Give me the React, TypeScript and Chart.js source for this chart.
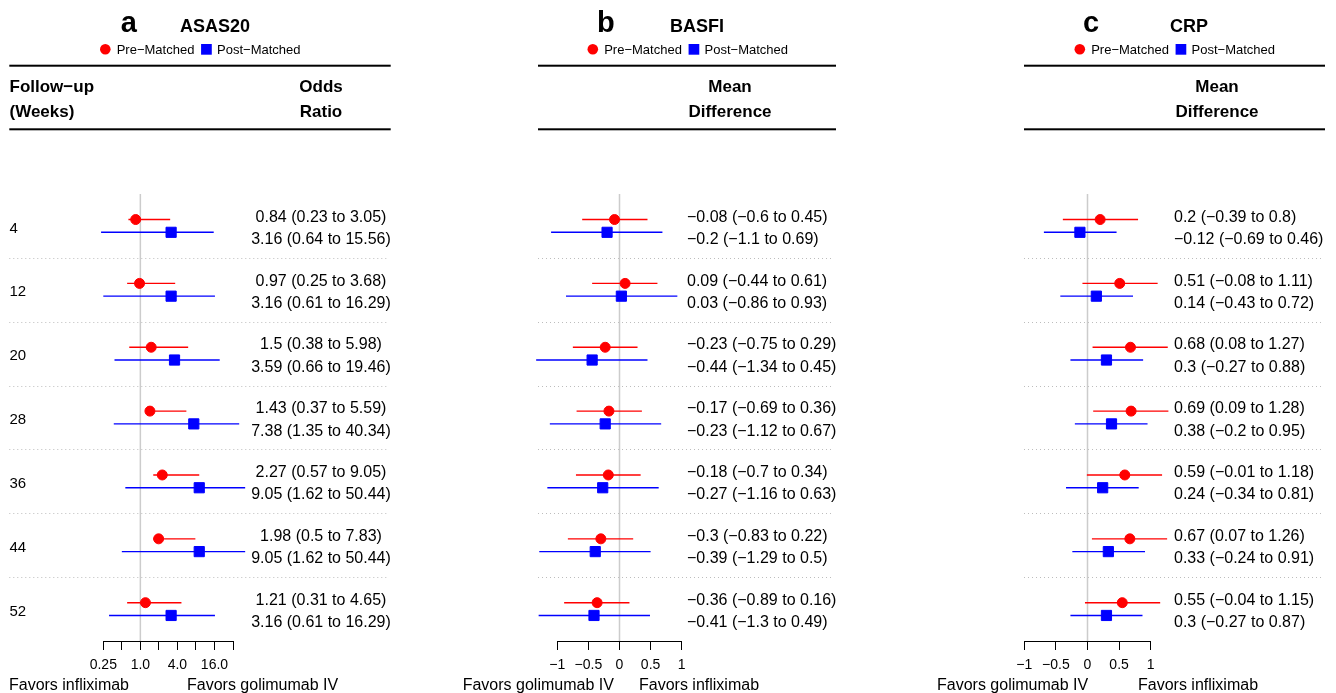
import React, { useEffect, useRef } from 'react';
import { Chart, registerables } from 'chart.js';

Chart.register(...registerables);

const FONT = '"Liberation Sans", Arial, Helvetica, sans-serif';
const RED = '#ff0000';
const BLUE = '#0000ff';

// ---- categories ----
const weeks = [4, 12, 20, 28, 36, 44, 52];

// ---- ASAS20 odds ratios (text values) ----
const asasPreEst = [0.84, 0.97, 1.5, 1.43, 2.27, 1.98, 1.21];
const asasPreLo = [0.23, 0.25, 0.38, 0.37, 0.57, 0.5, 0.31];
const asasPreHi = [3.05, 3.68, 5.98, 5.59, 9.05, 7.83, 4.65];
const asasPostEst = [3.16, 3.16, 3.59, 7.38, 9.05, 9.05, 3.16];
const asasPostLo = [0.64, 0.61, 0.66, 1.35, 1.62, 1.62, 0.61];
const asasPostHi = [15.56, 16.29, 19.46, 40.34, 50.44, 50.44, 16.29];
// interval ends as actually drawn in the figure (lower ends appear exchanged)
const asasPreBarLo = [0.64, 0.61, 0.66, 1.35, 1.62, 1.62, 0.61];
const asasPostBarLo = [0.23, 0.25, 0.38, 0.37, 0.57, 0.5, 0.31];

// ---- BASFI mean differences ----
const basfiPreEst = [-0.08, 0.09, -0.23, -0.17, -0.18, -0.3, -0.36];
const basfiPreLo = [-0.6, -0.44, -0.75, -0.69, -0.7, -0.83, -0.89];
const basfiPreHi = [0.45, 0.61, 0.29, 0.36, 0.34, 0.22, 0.16];
const basfiPostEst = [-0.2, 0.03, -0.44, -0.23, -0.27, -0.39, -0.41];
const basfiPostLo = [-1.1, -0.86, -1.34, -1.12, -1.16, -1.29, -1.3];
const basfiPostHi = [0.69, 0.93, 0.45, 0.67, 0.63, 0.5, 0.49];

// ---- CRP mean differences ----
const crpPreEst = [0.2, 0.51, 0.68, 0.69, 0.59, 0.67, 0.55];
const crpPreLo = [-0.39, -0.08, 0.08, 0.09, -0.01, 0.07, -0.04];
const crpPreHi = [0.8, 1.11, 1.27, 1.28, 1.18, 1.26, 1.15];
const crpPostEst = [-0.12, 0.14, 0.3, 0.38, 0.24, 0.33, 0.3];
const crpPostLo = [-0.69, -0.43, -0.27, -0.2, -0.34, -0.24, -0.27];
const crpPostHi = [0.46, 0.72, 0.88, 0.95, 0.81, 0.91, 0.87];

// ---- tick labels ----
const orTicks = [0.25, 0.5, 1, 2, 4, 8, 16, 32];
const orTickLabels = ['0.25', '', '1.0', '', '4.0', '', '16.0', ''];
const mdTicks = [-1, -0.5, 0, 0.5, 1];
const mdTickLabels = ['−1', '−0.5', '0', '0.5', '1'];

const legendLabels = ['Pre−Matched', 'Post−Matched'];

const PAGE_W = 1336;
const PAGE_H = 693;
const PLOT_TOP = 194;
const PLOT_BOTTOM = 641;
const ROW_OFF = 0.1;

const fmt = (v: number) => String(v).replace('-', '−');
const ciText = (e: number, l: number, h: number) => `${fmt(e)} (${fmt(l)} to ${fmt(h)})`;

type Panel = {
  key: string;
  left: number;
  width: number;
  axisL: number;
  axisR: number;
  log: boolean;
  ticks: number[];
  tickLabels: string[];
  ref: number;
  letter: string;
  letterX: number;
  title: string;
  titleX: number;
  legendX: number;
  lineL: number;
  lineR: number;
  headLeft?: string[];
  headRight: string[];
  headRightX: number;
  valueX: number;
  valueAlign: CanvasTextAlign;
  favorLeft: string;
  favorLeftX: number;
  favorLeftAlign: CanvasTextAlign;
  favorRight: string;
  favorRightX: number;
  preEst: number[];
  preLo: number[];
  preHi: number[];
  postEst: number[];
  postLo: number[];
  postHi: number[];
  preBarLo: number[];
  preBarHi: number[];
  postBarLo: number[];
  postBarHi: number[];
  rowLabels: boolean;
};

const panels: Panel[] = [
  {
    key: 'a', left: 0, width: 445, axisL: 103.3, axisR: 233, log: true,
    ticks: orTicks, tickLabels: orTickLabels, ref: 1,
    letter: 'a', letterX: 120.7, title: 'ASAS20', titleX: 180, legendX: 100,
    lineL: 9.3, lineR: 390.7,
    headLeft: ['Follow−up', '(Weeks)'], headRight: ['Odds', 'Ratio'], headRightX: 321,
    valueX: 321, valueAlign: 'center',
    favorLeft: 'Favors infliximab', favorLeftX: 129, favorLeftAlign: 'right',
    favorRight: 'Favors golimumab IV', favorRightX: 187,
    preEst: asasPreEst, preLo: asasPreLo, preHi: asasPreHi,
    postEst: asasPostEst, postLo: asasPostLo, postHi: asasPostHi,
    preBarLo: asasPreBarLo, preBarHi: asasPreHi, postBarLo: asasPostBarLo, postBarHi: asasPostHi,
    rowLabels: true,
  },
  {
    key: 'b', left: 445, width: 480, axisL: 557.3, axisR: 681.7, log: false,
    ticks: mdTicks, tickLabels: mdTickLabels, ref: 0,
    letter: 'b', letterX: 597, title: 'BASFI', titleX: 670, legendX: 587.5,
    lineL: 538, lineR: 836,
    headRight: ['Mean', 'Difference'], headRightX: 730,
    valueX: 687, valueAlign: 'left',
    favorLeft: 'Favors golimumab IV', favorLeftX: 462.7, favorLeftAlign: 'left',
    favorRight: 'Favors infliximab', favorRightX: 639,
    preEst: basfiPreEst, preLo: basfiPreLo, preHi: basfiPreHi,
    postEst: basfiPostEst, postLo: basfiPostLo, postHi: basfiPostHi,
    preBarLo: basfiPreLo, preBarHi: basfiPreHi, postBarLo: basfiPostLo, postBarHi: basfiPostHi,
    rowLabels: false,
  },
  {
    key: 'c', left: 925, width: 411, axisL: 1024.3, axisR: 1150.7, log: false,
    ticks: mdTicks, tickLabels: mdTickLabels, ref: 0,
    letter: 'c', letterX: 1083, title: 'CRP', titleX: 1170, legendX: 1074.5,
    lineL: 1024, lineR: 1325,
    headRight: ['Mean', 'Difference'], headRightX: 1217,
    valueX: 1174, valueAlign: 'left',
    favorLeft: 'Favors golimumab IV', favorLeftX: 937, favorLeftAlign: 'left',
    favorRight: 'Favors infliximab', favorRightX: 1138,
    preEst: crpPreEst, preLo: crpPreLo, preHi: crpPreHi,
    postEst: crpPostEst, postLo: crpPostLo, postHi: crpPostHi,
    preBarLo: crpPreLo, preBarHi: crpPreHi, postBarLo: crpPostLo, postBarHi: crpPostHi,
    rowLabels: false,
  },
];

function decorPlugin(p: Panel) {
  const X = (px: number) => px - p.left;
  return {
    id: 'decor_' + p.key,
    beforeDatasetsDraw(chart: any) {
      const { ctx, chartArea } = chart;
      const xs = chart.scales.x;
      const ys = chart.scales.y;
      ctx.save();
      // dotted separators
      ctx.strokeStyle = '#bdbdbd';
      ctx.lineWidth = 1;
      ctx.setLineDash([1, 3]);
      for (let i = 0; i < weeks.length - 1; i++) {
        const y = Math.round(ys.getPixelForValue(i + 0.5)) + 0.5;
        ctx.beginPath();
        ctx.moveTo(X(p.lineL), y);
        ctx.lineTo(X(p.lineR) - 2, y);
        ctx.stroke();
      }
      ctx.setLineDash([]);
      // reference line
      const rx = xs.getPixelForValue(p.ref);
      ctx.strokeStyle = '#cccccc';
      ctx.lineWidth = 1.5;
      ctx.beginPath();
      ctx.moveTo(rx, chartArea.top);
      ctx.lineTo(rx, chartArea.bottom);
      ctx.stroke();
      ctx.restore();
    },
    afterDraw(chart: any) {
      const { ctx } = chart;
      const ys = chart.scales.y;
      ctx.save();
      ctx.fillStyle = '#000';
      ctx.textBaseline = 'alphabetic';
      // panel letter + title
      ctx.textAlign = 'left';
      ctx.font = `bold 29px ${FONT}`;
      ctx.fillText(p.letter, X(p.letterX), 32.3);
      ctx.font = `bold 18px ${FONT}`;
      ctx.fillText(p.title, X(p.titleX), 31.7);
      // legend
      ctx.font = `13px ${FONT}`;
      let lx = X(p.legendX);
      ctx.fillStyle = RED;
      ctx.beginPath();
      ctx.arc(lx + 5.3, 49.3, 5.3, 0, Math.PI * 2);
      ctx.fill();
      ctx.fillStyle = '#000';
      ctx.fillText(legendLabels[0], lx + 16.7, 54);
      lx = lx + 16.7 + ctx.measureText(legendLabels[0]).width + 6.7;
      ctx.fillStyle = BLUE;
      ctx.fillRect(lx, 44, 10.7, 10.7);
      ctx.fillStyle = '#000';
      ctx.fillText(legendLabels[1], lx + 16, 54);
      // header rules
      ctx.fillRect(X(p.lineL), 64.7, p.lineR - p.lineL, 2);
      ctx.fillRect(X(p.lineL), 128.3, p.lineR - p.lineL, 2);
      // headers
      ctx.font = `bold 17px ${FONT}`;
      if (p.headLeft) {
        ctx.textAlign = 'left';
        ctx.fillText(p.headLeft[0], X(9.5), 92.3);
        ctx.fillText(p.headLeft[1], X(9.5), 117.3);
      }
      ctx.textAlign = 'center';
      ctx.fillText(p.headRight[0], X(p.headRightX), 92.3);
      ctx.fillText(p.headRight[1], X(p.headRightX), 117.3);
      // rows
      for (let i = 0; i < weeks.length; i++) {
        const yc = ys.getPixelForValue(i);
        if (p.rowLabels) {
          ctx.font = `15px ${FONT}`;
          ctx.textAlign = 'left';
          ctx.fillText(String(weeks[i]), X(9.5), yc + 6.7);
        }
        ctx.font = `16px ${FONT}`;
        ctx.textAlign = p.valueAlign;
        ctx.fillText(ciText(p.preEst[i], p.preLo[i], p.preHi[i]), X(p.valueX), yc - 4.2);
        ctx.fillText(ciText(p.postEst[i], p.postLo[i], p.postHi[i]), X(p.valueX), yc + 18);
      }
      // favours labels
      ctx.font = `16px ${FONT}`;
      ctx.textAlign = p.favorLeftAlign;
      ctx.fillText(p.favorLeft, X(p.favorLeftX), 690);
      ctx.textAlign = 'left';
      ctx.fillText(p.favorRight, X(p.favorRightX), 690);
      ctx.restore();
    },
  };
}

function makeChart(canvas: HTMLCanvasElement, p: Panel) {
  const datasets: any[] = [];
  datasets.push({
    label: legendLabels[0],
    data: p.preEst.map((v, i) => ({ x: v, y: i - ROW_OFF })),
    pointStyle: 'circle', pointRadius: 5, pointBackgroundColor: RED, pointBorderColor: RED,
    pointBorderWidth: 1, showLine: false, clip: false, order: 0,
  });
  datasets.push({
    label: legendLabels[1],
    data: p.postEst.map((v, i) => ({ x: v, y: i + ROW_OFF })),
    pointStyle: 'rect', pointRadius: 7.2, pointBackgroundColor: BLUE, pointBorderColor: BLUE,
    pointBorderWidth: 1, showLine: false, clip: false, order: 0,
  });
  weeks.forEach((_, i) => {
    datasets.push({
      data: [{ x: p.preBarLo[i], y: i - ROW_OFF }, { x: p.preBarHi[i], y: i - ROW_OFF }],
      showLine: true, borderColor: RED, borderWidth: 1.4, pointRadius: 0, clip: false, order: 1,
    });
    datasets.push({
      data: [{ x: p.postBarLo[i], y: i + ROW_OFF }, { x: p.postBarHi[i], y: i + ROW_OFF }],
      showLine: true, borderColor: BLUE, borderWidth: 1.4, pointRadius: 0, clip: false, order: 1,
    });
  });

  const xScale: any = {
    type: p.log ? 'logarithmic' : 'linear',
    min: p.ticks[0],
    max: p.ticks[p.ticks.length - 1],
    afterBuildTicks: (s: any) => {
      s.ticks = p.ticks.map((v) => ({ value: v }));
    },
    afterFit: (s: any) => {
      s.height = PAGE_H - PLOT_BOTTOM;
    },
    ticks: {
      autoSkip: false, maxRotation: 0, minRotation: 0, padding: 7, color: '#000',
      font: { family: FONT, size: 14 },
      callback: (_v: any, idx: number) => p.tickLabels[idx],
    },
    grid: { display: true, drawOnChartArea: false, drawTicks: true, tickLength: 9, color: '#000', lineWidth: 1 },
    border: { display: true, color: '#000', width: 1 },
  };

  return new Chart(canvas, {
    type: 'scatter',
    data: { datasets },
    options: {
      responsive: false,
      animation: false,
      devicePixelRatio: 1,
      events: [],
      layout: {
        padding: {
          left: p.axisL - p.left,
          right: p.left + p.width - p.axisR,
          top: PLOT_TOP,
          bottom: 0,
        },
      },
      scales: {
        x: xScale,
        y: { type: 'linear', min: -0.5, max: weeks.length - 0.5, reverse: true, display: false },
      },
      plugins: { legend: { display: false }, tooltip: { enabled: false }, title: { display: false } },
    } as any,
    plugins: [decorPlugin(p) as any],
  });
}

export default function App() {
  const refs = useRef<(HTMLCanvasElement | null)[]>([]);
  useEffect(() => {
    const charts = panels.map((p, i) => makeChart(refs.current[i] as HTMLCanvasElement, p));
    return () => charts.forEach((c) => c.destroy());
  }, []);
  return (
    <div style={{ position: 'absolute', left: 0, top: 0, width: PAGE_W, height: PAGE_H, background: '#fff', overflow: 'hidden' }}>
      {panels.map((p, i) => (
        <canvas
          key={p.key}
          ref={(el) => { refs.current[i] = el; }}
          width={p.width}
          height={PAGE_H}
          style={{ position: 'absolute', left: p.left, top: 0, width: p.width, height: PAGE_H }}
        />
      ))}
    </div>
  );
}
